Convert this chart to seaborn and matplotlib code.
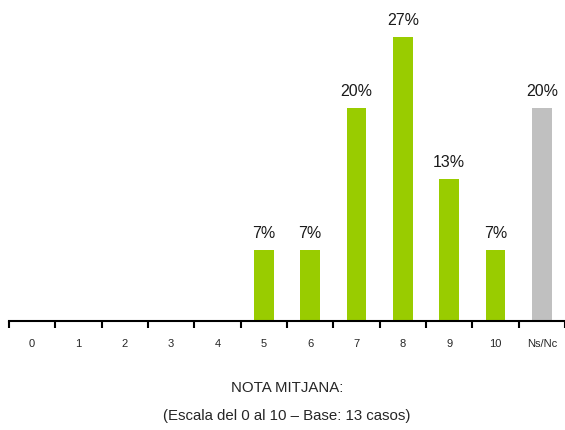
import matplotlib
matplotlib.use("Agg")
import matplotlib.pyplot as plt
import seaborn as sns
import pandas as pd
import numpy as np

sns.set_style("white")
plt.rcParams['font.family'] = ['Liberation Sans', 'DejaVu Sans']

# data
categories = ["0", "1", "2", "3", "4", "5", "6", "7", "8", "9", "10", "Ns/Nc"]
values = [0, 0, 0, 0, 0, 6.67, 6.67, 20.0, 26.67, 13.33, 6.67, 20.0]
labels = ["", "", "", "", "", "7%", "7%", "20%", "27%", "13%", "7%", "20%"]
colors = ["#99CC00"] * 11 + ["#C0C0C0"]

df = pd.DataFrame({"cat": categories, "val": values})

fig = plt.figure(figsize=(5.65, 4.31), dpi=100)
ax = fig.add_axes([9 / 565, 1 - 322 / 431, 556 / 565, 322 / 431])

sns.barplot(x="cat", y="val", hue="cat", data=df, palette=colors,
            order=categories, legend=False, width=0.43, saturation=1,
            linewidth=0, ax=ax)

# percentage labels above bars
for i, (v, t) in enumerate(zip(values, labels)):
    if t:
        ax.text(i, v + 1.22, t, ha="center", va="baseline", fontsize=11.5, color="#1a1a1a")

ax.set_xlim(-0.5, len(categories) - 0.5)
ax.set_ylim(0, 30.2)
ax.set_xlabel("")
ax.set_ylabel("")
ax.set_yticks([])

for s in ["top", "right", "left"]:
    ax.spines[s].set_visible(False)
ax.spines["bottom"].set_linewidth(1.5)
ax.spines["bottom"].set_color("black")

ax.set_xticks(np.arange(len(categories)))
ax.set_xticklabels(categories, fontsize=8)
ax.tick_params(axis="x", which="major", length=0, pad=12)
ax.set_xticks(np.arange(-0.5, len(categories)), minor=True)
ax.tick_params(axis="x", which="minor", length=5, width=1.5, direction="out", color="black")
ax.xaxis.set_ticks_position("bottom")

fig.text(287 / 565, 1 - 392 / 431, "NOTA MITJANA:", ha="center", va="baseline", fontsize=10.8)
fig.text(287 / 565, 1 - 420 / 431, "(Escala del 0 al 10 \u2013 Base: 13 casos)",
         ha="center", va="baseline", fontsize=10.8)

fig.savefig("out.png", dpi=100)
